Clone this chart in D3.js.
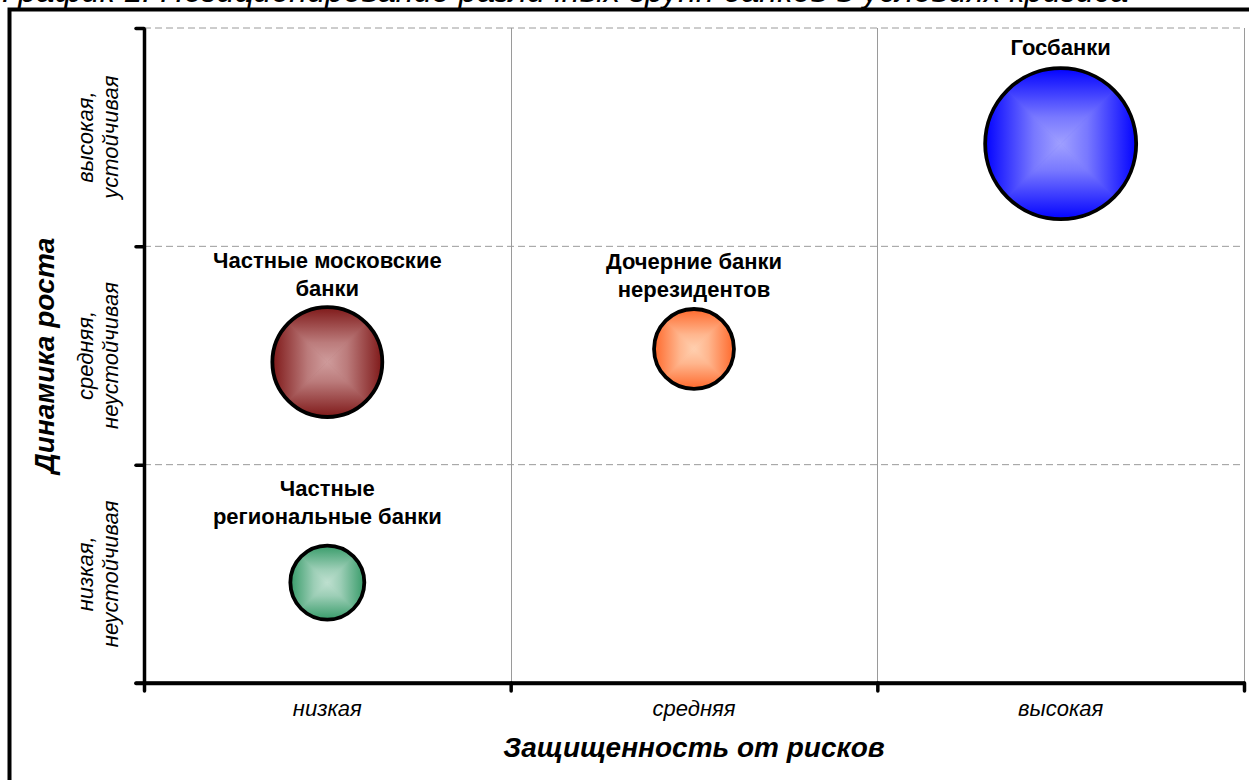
<!DOCTYPE html>
<html>
<head>
<meta charset="utf-8">
<script src="https://cdn.jsdelivr.net/npm/d3@7"></script>
<style>
  html, body { margin: 0; padding: 0; background: #fff; overflow: hidden; }
  svg { display: block; font-family: "Liberation Sans", Arial, sans-serif; }
</style>
</head>
<body>
<svg id="chart" width="1249" height="780"></svg>
<script>
// Bank groups: risk protection (x), growth dynamics (y), relative size
const groups = ["Госбанки", "Частные московские банки", "Дочерние банки нерезидентов", "Частные региональные банки"];
const groupLabelLines = [["Госбанки"], ["Частные московские", "банки"], ["Дочерние банки", "нерезидентов"], ["Частные", "региональные банки"]];
const protection = [2.5, 0.5, 1.5, 0.5];
const growth = [2.47, 1.47, 1.53, 0.46];
const bubbleSize = [100, 53, 28, 24];

// Qualitative axis categories
const xCategories = ["низкая", "средняя", "высокая"];
const yCategories = [["низкая,", "неустойчивая"], ["средняя,", "неустойчивая"], ["высокая,", "устойчивая"]];
const xTitle = "Защищенность от рисков";
const yTitle = "Динамика роста";
const chartTitle = "График 1. Позиционирование различных групп банков в условиях кризиса";

// Fill colours: [edge, centre]
const palette = [["#0000ff", "#a0a0ff"], ["#7d1616", "#cf9c9c"], ["#ff6628", "#ffd0b0"], ["#339966", "#bfe0d0"]];

const svg = d3.select("#chart");
const plot = { left: 144, right: 1244, top: 28, bottom: 683 };

const x = d3.scaleLinear().domain([0, 3]).range([plot.left, plot.right]);
const y = d3.scaleLinear().domain([0, 3]).range([plot.bottom, plot.top]);
const r = d3.scaleSqrt().domain([0, d3.max(bubbleSize)]).range([0, 75.5]);

// Title, partly cut off by the page edge
svg.append("text")
  .attr("x", 2).attr("y", 2)
  .attr("font-size", 32.5).attr("font-style", "italic")
  .attr("fill", "#000")
  .text(chartTitle);

// Outer frame
svg.append("rect")
  .attr("x", 9.5).attr("y", 9.5).attr("width", 1400).attr("height", 900)
  .attr("fill", "none").attr("stroke", "#000").attr("stroke-width", 4);

// Gridlines
svg.append("g").selectAll("line").data([1, 2, 3]).join("line")
  .attr("x1", plot.left).attr("x2", plot.right)
  .attr("y1", d => y(d)).attr("y2", d => y(d))
  .attr("stroke", "#9a9a9a").attr("stroke-width", 1).attr("stroke-dasharray", "7,4");
svg.append("g").selectAll("line").data([1, 2, 3]).join("line")
  .attr("x1", d => Math.round(x(d)) + 0.5).attr("x2", d => Math.round(x(d)) + 0.5)
  .attr("y1", plot.top).attr("y2", plot.bottom)
  .attr("stroke", "#9a9a9a").attr("stroke-width", 1);

// Axes
const yAxis = svg.append("g").attr("transform", `translate(${plot.left},0)`)
  .call(d3.axisLeft(y).tickValues([0, 1, 2, 3]).tickSize(8).tickSizeOuter(0).tickFormat(""));
const xAxis = svg.append("g").attr("transform", `translate(0,${plot.bottom})`)
  .call(d3.axisBottom(x).tickValues([0, 1, 2, 3]).tickSize(8).tickSizeOuter(0).tickFormat(""));
[yAxis, xAxis].forEach(a => {
  a.select(".domain").attr("stroke", "#000").attr("stroke-width", 3.5);
  a.selectAll(".tick line").attr("stroke", "#000").attr("stroke-width", 3.5).attr("stroke-linecap", "round");
});
// horizontal axis line continues to the left tick
svg.append("line").attr("x1", plot.left - 8).attr("x2", plot.right)
  .attr("y1", plot.bottom).attr("y2", plot.bottom)
  .attr("stroke", "#000").attr("stroke-width", 3.5).attr("stroke-linecap", "round");

// Category labels
svg.append("g").selectAll("text").data(xCategories).join("text")
  .attr("x", (d, i) => x(i + 0.5)).attr("y", plot.bottom + 33)
  .attr("text-anchor", "middle").attr("font-size", 22).attr("font-style", "italic")
  .text(d => d);

const yCat = svg.append("g").selectAll("text").data(yCategories).join("text")
  .attr("transform", (d, i) => `translate(93,${y(i + 0.5)}) rotate(-90)`)
  .attr("text-anchor", "middle").attr("font-size", 22).attr("font-style", "italic");
yCat.selectAll("tspan").data(d => d).join("tspan")
  .attr("x", 0).attr("dy", (d, j) => j === 0 ? 0 : 25)
  .text(d => d);

// Axis titles
svg.append("text")
  .attr("x", (plot.left + plot.right) / 2).attr("y", 757)
  .attr("text-anchor", "middle").attr("font-size", 28)
  .attr("font-weight", "bold").attr("font-style", "italic")
  .text(xTitle);
svg.append("text")
  .attr("transform", `translate(54,${(plot.top + plot.bottom) / 2}) rotate(-90)`)
  .attr("text-anchor", "middle").attr("font-size", 28)
  .attr("font-weight", "bold").attr("font-style", "italic")
  .text(yTitle);

// Rectangular "from centre" shading: four triangles, each shaded outward
const defs = svg.append("defs");
const dirs = {
  top:    { x1: 0.5, y1: 1, x2: 0.5, y2: 0, pts: (s) => [[0, 0], [-s, -s], [s, -s]] },
  bottom: { x1: 0.5, y1: 0, x2: 0.5, y2: 1, pts: (s) => [[0, 0], [s, s], [-s, s]] },
  left:   { x1: 1, y1: 0.5, x2: 0, y2: 0.5, pts: (s) => [[0, 0], [-s, s], [-s, -s]] },
  right:  { x1: 0, y1: 0.5, x2: 1, y2: 0.5, pts: (s) => [[0, 0], [s, -s], [s, s]] }
};
palette.forEach((c, i) => {
  Object.entries(dirs).forEach(([k, g]) => {
    const lg = defs.append("linearGradient").attr("id", `g${i}-${k}`)
      .attr("x1", g.x1).attr("y1", g.y1).attr("x2", g.x2).attr("y2", g.y2);
    lg.append("stop").attr("offset", 0).attr("stop-color", c[1]);
    lg.append("stop").attr("offset", 0.35).attr("stop-color", d3.interpolateRgb(c[1], c[0])(0.25));
    lg.append("stop").attr("offset", 1).attr("stop-color", c[0]);
  });
});

const bubbles = groups.map((name, i) => ({
  name, i, lines: groupLabelLines[i],
  cx: x(protection[i]), cy: y(growth[i]), rad: r(bubbleSize[i])
}));

const bg = svg.append("g").selectAll("g").data(bubbles).join("g")
  .attr("transform", d => `translate(${d.cx},${d.cy})`);
bg.each(function (d) {
  const g = d3.select(this);
  const clipId = `clip${d.i}`;
  defs.append("clipPath").attr("id", clipId)
    .append("circle").attr("r", d.rad);
  const inner = g.append("g").attr("clip-path", `url(#${clipId})`);
  inner.append("circle").attr("r", d.rad)
    .attr("fill", d3.interpolateRgb(palette[d.i][1], palette[d.i][0])(0.5));
  Object.entries(dirs).forEach(([k, dd]) => {
    inner.append("path")
      .attr("d", d3.line()(dd.pts(d.rad + 1)) + "Z")
      .attr("fill", `url(#g${d.i}-${k})`)
      .attr("stroke", `url(#g${d.i}-${k})`).attr("stroke-width", 0.6);
  });
  g.append("circle").attr("r", d.rad)
    .attr("fill", "none").attr("stroke", "#000").attr("stroke-width", 3.8);
});

// Group labels stacked above each bubble
const labelGaps = [12, 10, 10, 20];
const lineStep = 28;
svg.append("g").selectAll("text").data(bubbles).join("text")
  .attr("text-anchor", "middle").attr("font-size", 22).attr("font-weight", "bold")
  .each(function (d) {
    const last = d.cy - d.rad - 1.5 - labelGaps[d.i];
    const first = last - (d.lines.length - 1) * lineStep;
    d3.select(this).selectAll("tspan").data(d.lines).join("tspan")
      .attr("x", d.cx).attr("y", (t, j) => first + j * lineStep)
      .text(t => t);
  });
</script>
</body>
</html>
